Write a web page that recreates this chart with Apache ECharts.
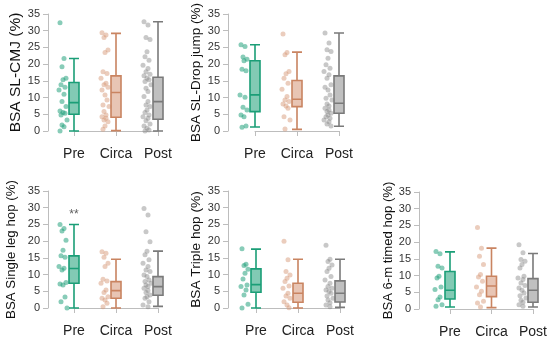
<!DOCTYPE html>
<html><head><meta charset="utf-8">
<script src="https://cdn.jsdelivr.net/npm/echarts@6/dist/echarts.min.js"></script>
<style>html,body{margin:0;padding:0;background:#fff}#c{width:550px;height:342px}</style>
</head><body><div id="c"></div>
<script>
const categories = ['Pre', 'Circa', 'Post'];
const titles = ['BSA SL-CMJ (%)', 'BSA SL-Drop jump (%)', 'BSA Single leg hop (%)', 'BSA Triple hop (%)', 'BSA 6-m timed hop (%)'];

// box stats: [min, Q1, median, Q3, max] for Pre, Circa, Post
const cmjBox = [[0, 5.0, 8.5, 14.5, 21.7], [0.1, 4.1, 11.5, 16.5, 29.2], [0, 3.5, 8.8, 16.1, 32.7]];
const cmjPre = [32.4, 21.7, 19.2, 15.8, 15.3, 13.8, 13.1, 12.3, 11, 8.8, 7.3, 6.0, 5.5, 5.3, 4.8, 3.3, 1.8, 1.3, 0];
const cmjCirca = [29.4, 28.7, 28, 24.2, 23.5, 17.7, 17.2, 15.8, 14.3, 13.8, 13.1, 12.3, 10.8, 9.3, 7.8, 7.3, 5.8, 4.8, 4.3, 3.8, 3.3, 2.8, 1.5, 0.5];
const cmjPost = [32.7, 31.7, 28, 27.4, 23.7, 22.2, 21.2, 19.7, 18.7, 17.7, 17, 16.5, 15.8, 15.3, 14.8, 13.8, 12.8, 11.8, 10.3, 8.8, 7.8, 7.3, 6.3, 5.5, 4.8, 4.3, 3.8, 3.1, 2.1, 1.5, 0.8, 0.3, 0];

const dropBox = [[1.2, 5.8, 10.8, 21, 25.8], [0.5, 7.3, 9.5, 15.1, 23.6], [1.4, 5.3, 8.3, 16.5, 29.3]];
const dropPre = [25.8, 25.3, 22.1, 21.5, 21, 18.5, 18, 10.8, 10.1, 7.1, 6.3, 4.8, 4.3, 1.5, 1.1];
const dropCirca = [29, 23.5, 22.8, 17.8, 17.1, 15.8, 14.3, 12.5, 10.3, 9.3, 8.8, 8.1, 7.5, 6.8, 4.3, 3.3, 0.6];
const dropPost = [29.3, 26.3, 24.3, 23.8, 21.8, 19.8, 18.8, 17.8, 16.8, 15.8, 13.8, 13.1, 12.3, 10.8, 9.8, 9.3, 8.1, 7.5, 6.8, 6.3, 5.8, 5.3, 4.8, 4.3, 3.8, 3.3, 2.8, 2.1, 1.5];

const slhBox = [[0, 7.4, 11.8, 15.6, 25], [0, 2.9, 5.2, 7.9, 14.6], [0.5, 3.8, 6.4, 9.4, 17.0]];
const slhPre = [25, 23.8, 23, 20.3, 17.3, 15.6, 15.2, 12.4, 11.9, 11.4, 7.6, 7.2, 6.9, 3.3, 1.9, 0];
const slhCirca = [16.8, 16.4, 15.2, 13.4, 12.4, 8.6, 8.1, 7.4, 5.4, 4.6, 3.4, 2.9, 2.4, 1.4, 0.4];
const slhPost = [29.8, 27.8, 22.8, 19.8, 17, 15.9, 14.4, 13.4, 12.4, 11.4, 10.9, 9.9, 9.4, 8.4, 7.9, 7.4, 6.9, 6.4, 5.9, 5.2, 4.6, 3.9, 3.4, 2.9, 1.9, 0.9, 0.4];
const slhSignif = [['Pre', 28, '**']];

const triBox = [[0, 4.7, 7.0, 11.7, 17.6], [0, 1.7, 4.4, 7.4, 14.6], [0.2, 1.8, 4.4, 8.1, 14.6]];
const triPre = [17.7, 13.1, 12.7, 11.6, 10.4, 8.7, 6.9, 6.4, 5.4, 3.9, 1.1, 0];
const triCirca = [20, 14.4, 10.9, 9.9, 8.9, 7.9, 6.6, 5.9, 4.4, 3.6, 2.9, 1.9, 0.9, 0.1];
const triPost = [18.8, 14.6, 13.9, 12.9, 11.9, 10.9, 9.4, 8.4, 7.4, 6.4, 5.9, 5.4, 4.9, 4.4, 3.6, 2.9, 2.4, 1.6, 0.9, 0.4];

const timBox = [[0.6, 3.0, 5.6, 11.2, 17.1], [0.4, 3.7, 6.9, 9.8, 18.2], [0.6, 2.0, 5.6, 9.1, 16.6]];
const timPre = [17.2, 16.5, 12.8, 12.3, 9.8, 9.3, 6.6, 5.8, 3.6, 2.8, 1.3, 0.8];
const timCirca = [24.4, 18.2, 15.8, 13.3, 10.3, 9.6, 8.3, 6.6, 5.3, 4.3, 2.3, 1.8, 0.6];
const timPost = [19.2, 16.8, 14.8, 14.3, 13.3, 12.3, 9.8, 9.3, 8.8, 7.8, 7.0, 6.3, 5.6, 4.8, 4.0, 3.3, 2.6, 2.0, 1.3, 0.8];

const panels = [
  {box: cmjBox, pts: [cmjPre, cmjCirca, cmjPost], grid: {left: 74, top: 14, width: 84, height: 117}, yOff: 26, nameGap: 24, nameSize: 15.5},
  {box: dropBox, pts: [dropPre, dropCirca, dropPost], grid: {left: 255, top: 14, width: 84, height: 117}, yOff: 27, nameGap: 25, nameSize: 13.5},
  {box: slhBox, pts: [slhPre, slhCirca, slhPost], grid: {left: 74, top: 191, width: 84, height: 117}, yOff: 26, nameGap: 30, nameSize: 13.3, signif: slhSignif},
  {box: triBox, pts: [triPre, triCirca, triPost], grid: {left: 256, top: 191, width: 84, height: 117}, yOff: 28, nameGap: 25, nameSize: 13.7},
  {box: timBox, pts: [timPre, timCirca, timPost], grid: {left: 450, top: 192, width: 83, height: 117}, yOff: 31, nameGap: 23, nameSize: 13.1}
];

const lineCols = ['#1b9e77', '#c98461', '#7a7a7a'];
const fillCols = ['rgba(27,158,119,0.55)', 'rgba(214,150,118,0.55)', 'rgba(150,150,150,0.6)'];
const ptCols = ['rgba(27,158,119,0.65)', 'rgba(214,150,118,0.6)', 'rgba(130,130,130,0.55)'];
const jitter = [-3, 1, -1, 3, 0, -2, 2, -4, 1, -1, 3, -3, 0, 2, -2, 4, -1, 1];

const grids = [], xAxes = [], yAxes = [], series = [];
panels.forEach((p, k) => {
  grids.push(p.grid);
  xAxes.push({
    gridIndex: k, type: 'category', data: categories, boundaryGap: false, offset: 7,
    axisLine: {lineStyle: {color: '#bdbdbd', width: 1}},
    axisTick: {show: true, length: 5, lineStyle: {color: '#bdbdbd'}},
    axisLabel: {interval: 0, fontFamily: 'Liberation Sans', fontSize: 14, color: '#222', margin: 9},
    splitLine: {show: false}
  });
  yAxes.push({
    gridIndex: k, type: 'value', min: 0, max: 35, interval: 5, offset: p.yOff,
    name: titles[k], nameLocation: 'middle', nameGap: p.nameGap, nameRotate: 90,
    nameTextStyle: {fontFamily: 'Liberation Sans', fontSize: p.nameSize, color: '#111'},
    axisLine: {show: true, lineStyle: {color: '#bdbdbd', width: 1}},
    axisTick: {show: true, length: 5, lineStyle: {color: '#bdbdbd'}},
    axisLabel: {fontFamily: 'Liberation Sans', fontSize: 11, color: '#333', margin: 8},
    splitLine: {show: false}
  });
  series.push({
    type: 'boxplot', xAxisIndex: k, yAxisIndex: k, boxWidth: [10, 10],
    data: categories.map((c, i) => ({value: p.box[i], itemStyle: {color: fillCols[i], borderColor: lineCols[i], borderWidth: 1.6}})),
    emphasis: {disabled: true}, silent: true, z: 3
  });
  categories.forEach((c, i) => {
    series.push({
      type: 'scatter', xAxisIndex: k, yAxisIndex: k, clip: false, symbolSize: 5, silent: true,
      data: p.pts[i].map((v, n) => ({value: [c, v], symbolOffset: [-11 + jitter[n % jitter.length], 0]})),
      itemStyle: {color: ptCols[i]}, z: 2
    });
  });
  if (p.signif) {
    series.push({
      type: 'scatter', xAxisIndex: k, yAxisIndex: k, symbolSize: 1, silent: true, clip: false,
      data: p.signif.map(s => ({value: [s[0], s[1]], name: s[2]})),
      itemStyle: {color: 'rgba(0,0,0,0)'},
      label: {show: true, position: 'inside', formatter: d => d.name, fontFamily: 'Liberation Sans', fontSize: 12, color: '#333'}
    });
  }
});

const chart = echarts.init(document.getElementById('c'), null, {renderer: 'canvas'});
chart.setOption({animation: false, backgroundColor: '#fff', grid: grids, xAxis: xAxes, yAxis: yAxes, series: series});
</script></body></html>
